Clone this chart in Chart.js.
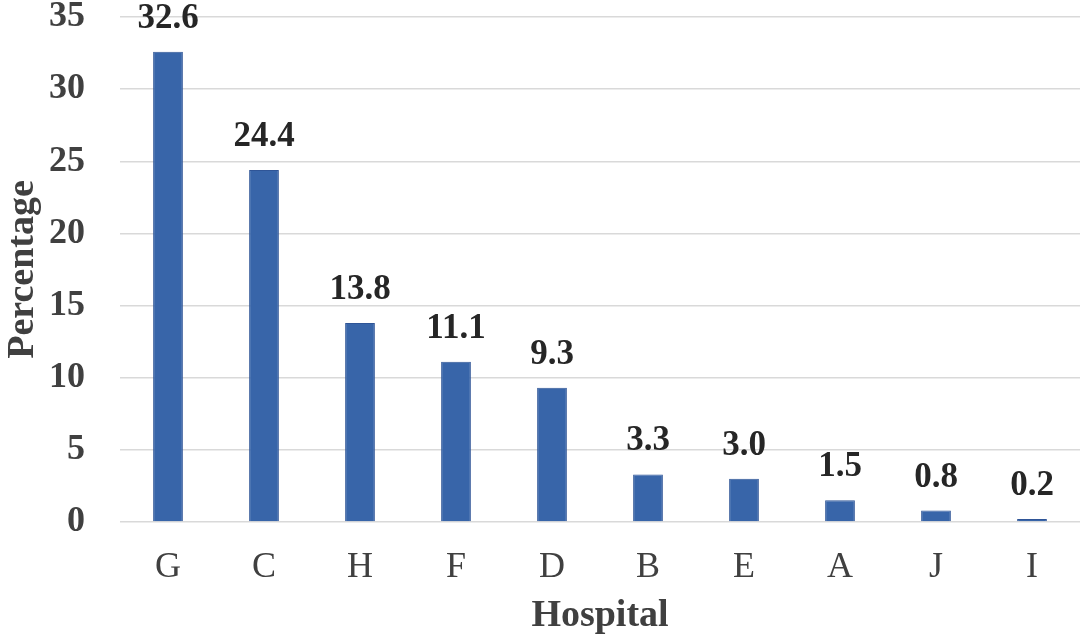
<!DOCTYPE html>
<html>
<head>
<meta charset="utf-8">
<script src="https://cdn.jsdelivr.net/npm/chart.js@4.4.0/dist/chart.umd.min.js"></script>
<style>
  html, body { margin: 0; padding: 0; background: #fff; }
  #wrap { width: 1084px; height: 640px; }
</style>
</head>
<body>
<div id="wrap"><canvas id="hospital_chart" width="1084" height="640"></canvas></div>
<script>
const hospitals = ["G", "C", "H", "F", "D", "B", "E", "A", "J", "I"];
const percentages = [32.6, 24.4, 13.8, 11.1, 9.3, 3.3, 3.0, 1.5, 0.8, 0.2];
const yTicks = [0, 5, 10, 15, 20, 25, 30, 35];

const serif = "'Liberation Serif', 'Times New Roman', serif";

// value labels above each bar
const barLabels = {
  id: "barLabels",
  afterDatasetsDraw(chart) {
    const ctx = chart.ctx;
    const meta = chart.getDatasetMeta(0);
    ctx.save();
    ctx.font = "bold 35px " + serif;
    ctx.fillStyle = "#262626";
    ctx.textAlign = "center";
    ctx.textBaseline = "middle";
    meta.data.forEach((bar, i) => {
      ctx.fillText(percentages[i].toFixed(1), bar.x, bar.y - 33);
    });
    ctx.restore();
  },
};

new Chart("hospital_chart", {
  type: "bar",
  data: {
    labels: hospitals,
    datasets: [
      {
        label: "Percentage",
        data: percentages,
        backgroundColor: "#3865A9",
        borderColor: "#2F5597",
        borderWidth: 1,
        barPercentage: 0.62,
        categoryPercentage: 0.5,
      },
    ],
  },
  options: {
    responsive: false,
    animation: false,
    layout: { padding: { top: 17, right: 4, left: 0, bottom: 0 } },
    plugins: {
      legend: { display: false },
      tooltip: { enabled: false },
    },
    scales: {
      x: {
        grid: { display: false },
        border: { display: false },
        ticks: {
          color: "#404040",
          font: { family: serif, size: 36 },
          padding: 16,
        },
        title: {
          display: true,
          text: "Hospital",
          color: "#404040",
          font: { family: serif, size: 38, weight: "bold" },
          padding: { top: 0, bottom: 1 },
        },
        afterFit: (axis) => { axis.height = 118; },
      },
      y: {
        min: 0,
        max: 35,
        afterBuildTicks: (axis) => { axis.ticks = yTicks.map((v) => ({ value: v })); },
        grid: { color: "#D9D9D9", lineWidth: 1.5, drawTicks: false },
        border: { display: false },
        ticks: {
          color: "#404040",
          font: { family: serif, size: 36, weight: "bold" },
          padding: 35,
        },
        title: {
          display: true,
          text: "Percentage",
          color: "#404040",
          font: { family: serif, size: 38, weight: "bold" },
          padding: { top: 0, bottom: 0 },
        },
        afterFit: (axis) => {
          axis.width = 120;
          axis.paddingTop = 0;
          axis.paddingBottom = 0;
        },
      },
    },
  },
  plugins: [barLabels],
});
</script>
</body>
</html>
